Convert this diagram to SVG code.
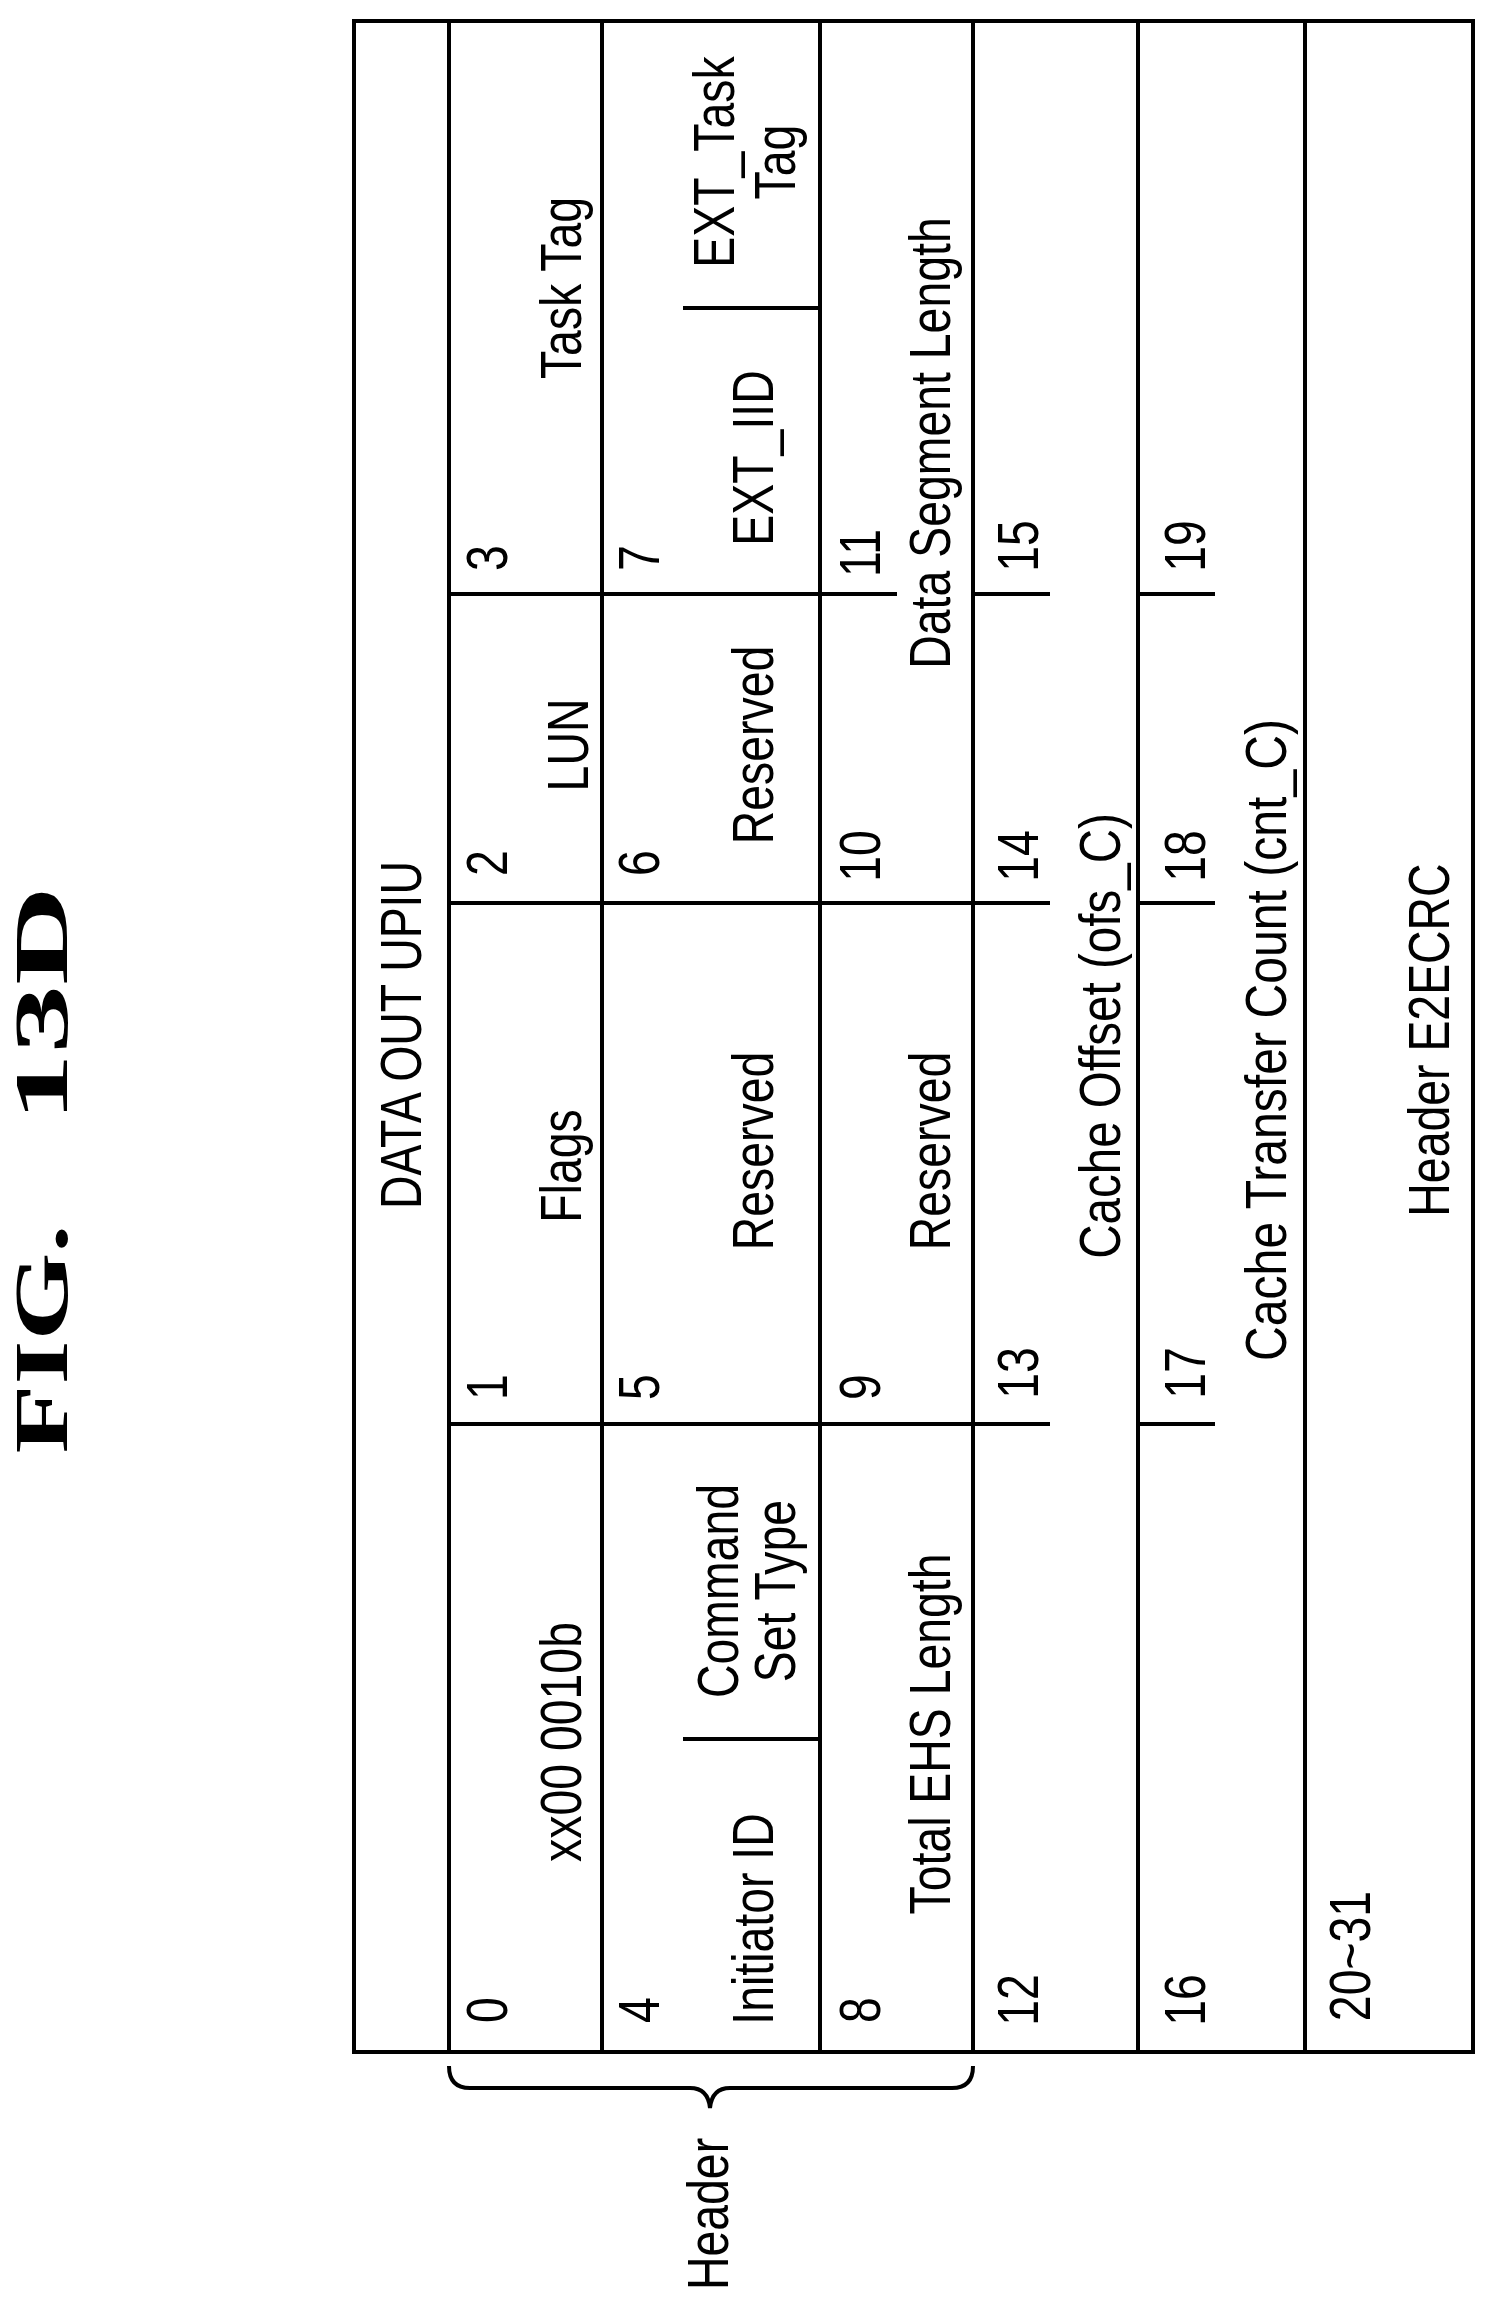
<svg xmlns="http://www.w3.org/2000/svg" width="1491" height="2310" viewBox="0 0 1491 2310">
<style>
.t{font-family:"Liberation Sans",Arial,sans-serif;font-size:58px;fill:#000;text-anchor:middle;dominant-baseline:central}
.f{font-family:"Liberation Serif","Times New Roman",serif;font-size:76px;font-weight:bold;fill:#000;text-anchor:middle;dominant-baseline:central}
.l{stroke:#000;stroke-width:4;fill:none}
</style>
<rect width="1491" height="2310" fill="#fff"/>
<g id="title">
<text class="f" transform="translate(41,1339) rotate(-90)" textLength="229" lengthAdjust="spacingAndGlyphs">FIG.</text>
<text class="f" transform="translate(41,1004) rotate(-90)" textLength="236" lengthAdjust="spacingAndGlyphs">13D</text>
</g>
<g id="table">
<rect class="l" x="354" y="21" width="1119" height="2031"/>
<g class="l">
<line x1="449" y1="21" x2="449" y2="2052"/>
<line x1="602" y1="21" x2="602" y2="2052"/>
<line x1="820" y1="21" x2="820" y2="2052"/>
<line x1="973" y1="21" x2="973" y2="2052"/>
<line x1="1138" y1="21" x2="1138" y2="2052"/>
<line x1="1305" y1="21" x2="1305" y2="2052"/>
<line x1="449" y1="594" x2="820" y2="594"/>
<line x1="449" y1="903" x2="973" y2="903"/>
<line x1="449" y1="1424" x2="973" y2="1424"/>
<line x1="820" y1="594" x2="897" y2="594"/>
<line x1="973" y1="594" x2="1050" y2="594"/>
<line x1="973" y1="903" x2="1050" y2="903"/>
<line x1="973" y1="1424" x2="1050" y2="1424"/>
<line x1="1138" y1="594" x2="1215" y2="594"/>
<line x1="1138" y1="903" x2="1215" y2="903"/>
<line x1="1138" y1="1424" x2="1215" y2="1424"/>
<line x1="683" y1="308" x2="820" y2="308"/>
<line x1="683" y1="1739" x2="820" y2="1739"/>
</g>
</g>
<g id="labels">
<text class="t" transform="translate(401,1035) rotate(-90) scale(0.8,1)">DATA OUT UPIU</text>
<text class="t" transform="translate(487,2010) rotate(-90) scale(0.8,1)">0</text>
<text class="t" transform="translate(487,1387) rotate(-90) scale(0.8,1)">1</text>
<text class="t" transform="translate(487,863) rotate(-90) scale(0.8,1)">2</text>
<text class="t" transform="translate(487,558) rotate(-90) scale(0.8,1)">3</text>
<text class="t" transform="translate(561,1742) rotate(-90) scale(0.8,1)">xx00 0010b</text>
<text class="t" transform="translate(561,1166) rotate(-90) scale(0.8,1)">Flags</text>
<text class="t" transform="translate(568,745) rotate(-90) scale(0.8,1)">LUN</text>
<text class="t" transform="translate(561,288) rotate(-90) scale(0.8,1)">Task Tag</text>
<text class="t" transform="translate(639,2010) rotate(-90) scale(0.8,1)">4</text>
<text class="t" transform="translate(639,1387) rotate(-90) scale(0.8,1)">5</text>
<text class="t" transform="translate(639,863) rotate(-90) scale(0.8,1)">6</text>
<text class="t" transform="translate(639,558) rotate(-90) scale(0.8,1)">7</text>
<text class="t" transform="translate(753,1919) rotate(-90) scale(0.8,1)">Initiator ID</text>
<text class="t" transform="translate(718,1591) rotate(-90) scale(0.8,1)">Command</text>
<text class="t" transform="translate(775,1591) rotate(-90) scale(0.8,1)">Set Type</text>
<text class="t" transform="translate(753,1151) rotate(-90) scale(0.8,1)">Reserved</text>
<text class="t" transform="translate(753,745) rotate(-90) scale(0.8,1)">Reserved</text>
<text class="t" transform="translate(753,458) rotate(-90) scale(0.8,1)">EXT_IID</text>
<text class="t" transform="translate(714,162) rotate(-90) scale(0.8,1)">EXT_Task</text>
<text class="t" transform="translate(775,162) rotate(-90) scale(0.8,1)">Tag</text>
<text class="t" transform="translate(860,2010) rotate(-90) scale(0.8,1)">8</text>
<text class="t" transform="translate(860,1387) rotate(-90) scale(0.8,1)">9</text>
<text class="t" transform="translate(860,856) rotate(-90) scale(0.8,1)">10</text>
<text class="t" transform="translate(860,553) rotate(-90) scale(0.8,1)">11</text>
<text class="t" transform="translate(930,1734) rotate(-90) scale(0.8,1)">Total EHS Length</text>
<text class="t" transform="translate(930,1151) rotate(-90) scale(0.8,1)">Reserved</text>
<text class="t" transform="translate(930,443) rotate(-90) scale(0.8,1)">Data Segment Length</text>
<text class="t" transform="translate(1018,2000) rotate(-90) scale(0.8,1)">12</text>
<text class="t" transform="translate(1018,1373) rotate(-90) scale(0.8,1)">13</text>
<text class="t" transform="translate(1018,856) rotate(-90) scale(0.8,1)">14</text>
<text class="t" transform="translate(1018,546) rotate(-90) scale(0.8,1)">15</text>
<text class="t" transform="translate(1100,1036) rotate(-90) scale(0.82,1)">Cache Offset (ofs_C)</text>
<text class="t" transform="translate(1185,2000) rotate(-90) scale(0.8,1)">16</text>
<text class="t" transform="translate(1185,1373) rotate(-90) scale(0.8,1)">17</text>
<text class="t" transform="translate(1185,856) rotate(-90) scale(0.8,1)">18</text>
<text class="t" transform="translate(1185,546) rotate(-90) scale(0.8,1)">19</text>
<text class="t" transform="translate(1266,1040) rotate(-90) scale(0.83,1)">Cache Transfer Count (cnt_C)</text>
<text class="t" transform="translate(1350,1956) rotate(-90) scale(0.8,1)">20~31</text>
<text class="t" transform="translate(1429,1040) rotate(-90) scale(0.8,1)">Header E2ECRC</text>
</g>
<g id="header-brace">
<path class="l" d="M449,2066 Q449,2088 470,2088 L690,2088 Q708,2088 710,2108 Q712,2088 730,2088 L952,2088 Q973,2088 973,2066"/>
<text class="t" transform="translate(708,2214) rotate(-90) scale(0.8,1)">Header</text>
</g>
</svg>
